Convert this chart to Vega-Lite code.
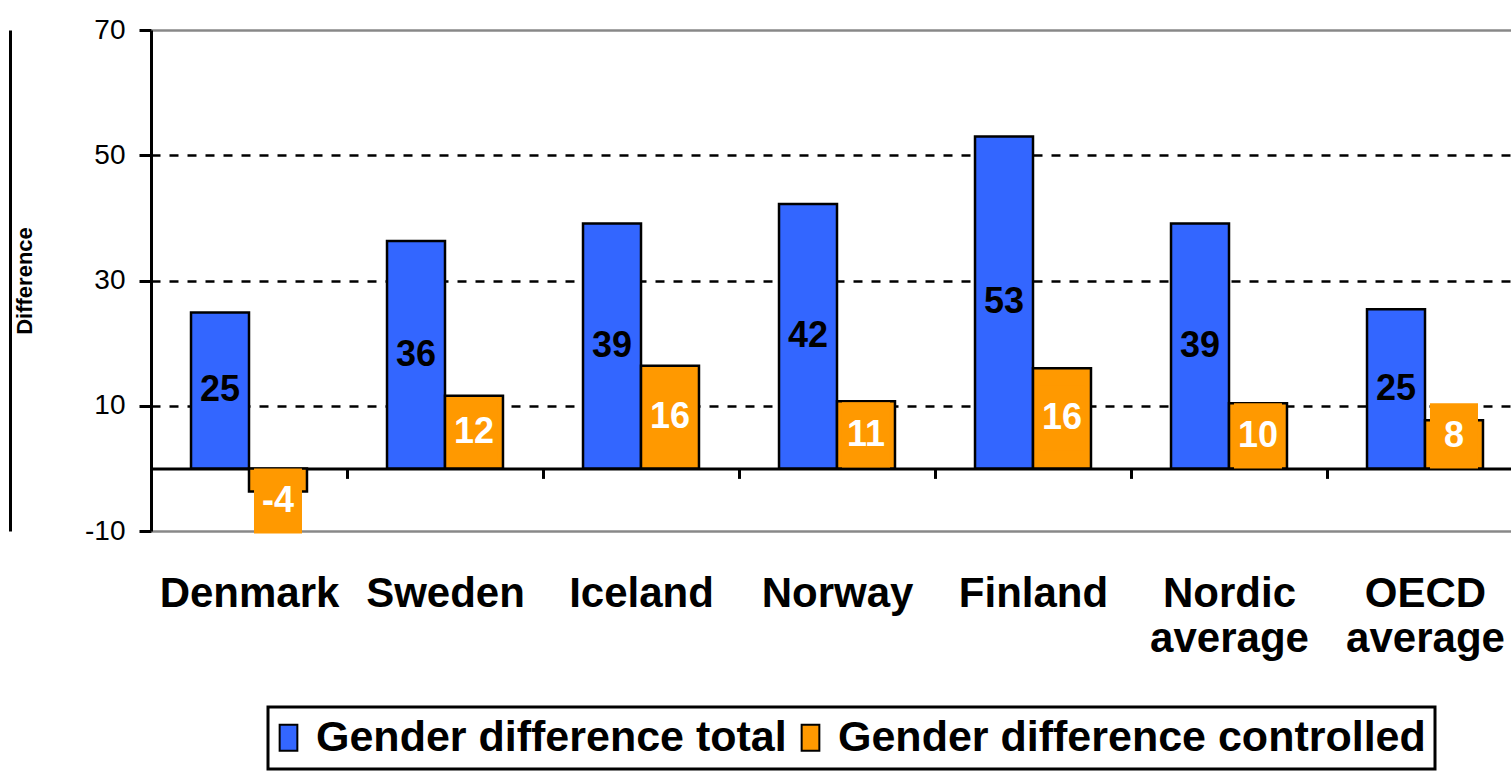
{
  "$schema": "https://vega.github.io/schema/vega-lite/v6.json",
  "width": 1372,
  "height": 501,
  "autosize": "none",
  "padding": {"left": 151, "top": 30, "right": 0, "bottom": 244},
  "background": "white",
  "config": {"view": {"stroke": null}, "font": "Liberation Sans"},
  "data": {
    "values": [
      {"country": "Denmark", "series": "Gender difference total", "value": 24.9},
      {"country": "Denmark", "series": "Gender difference controlled", "value": -3.7},
      {"country": "Sweden", "series": "Gender difference total", "value": 36.3},
      {"country": "Sweden", "series": "Gender difference controlled", "value": 11.6},
      {"country": "Iceland", "series": "Gender difference total", "value": 39.1},
      {"country": "Iceland", "series": "Gender difference controlled", "value": 16.4},
      {"country": "Norway", "series": "Gender difference total", "value": 42.2},
      {"country": "Norway", "series": "Gender difference controlled", "value": 10.7},
      {"country": "Finland", "series": "Gender difference total", "value": 53.0},
      {"country": "Finland", "series": "Gender difference controlled", "value": 16.0},
      {"country": "Nordic average", "series": "Gender difference total", "value": 39.1},
      {"country": "Nordic average", "series": "Gender difference controlled", "value": 10.4},
      {"country": "OECD average", "series": "Gender difference total", "value": 25.4},
      {"country": "OECD average", "series": "Gender difference controlled", "value": 7.7}
    ]
  },
  "transform": [
    {"calculate": "datum.series == 'Gender difference controlled' ? (datum.value < 0 ? min(datum.value / 2, -5.2) : max(datum.value / 2, 5.2)) : datum.value / 2", "as": "lab"},
    {"calculate": "datum.lab - 5.2", "as": "lo"},
    {"calculate": "datum.lab + 5.2", "as": "hi"},
    {"calculate": "'' + round(datum.value)", "as": "txt"}
  ],
  "encoding": {
    "x": {
      "field": "country", "type": "nominal", "sort": null,
      "scale": {"paddingInner": 0, "paddingOuter": 0},
      "axis": {
        "orient": "bottom", "offset": -62.6, "title": null,
        "tickBand": "extent", "tickSize": 10, "tickWidth": 3, "tickColor": "black",
        "domainColor": "black", "domainWidth": 3,
        "labelFont": "Liberation Sans", "labelFontSize": 42, "labelFontWeight": "bold", "labelColor": "black",
        "labelPadding": 95, "labelAngle": 0, "labelLimit": 400, "labelOverlap": false,
        "labelLineHeight": 45, "labelBound": false, "labelFlush": false,
        "labelExpr": "indexof(datum.label, 'average') > 0 ? split(datum.label, ' ') : datum.label"
      }
    },
    "xOffset": {
      "field": "series", "type": "nominal",
      "sort": ["Gender difference total", "Gender difference controlled"],
      "scale": {"paddingInner": 0, "paddingOuter": 0.69}
    }
  },
  "layer": [
    {
      "mark": {"type": "bar", "stroke": "black", "strokeWidth": 2.5},
      "encoding": {
        "y": {
          "field": "value", "type": "quantitative",
          "scale": {"domain": [-10, 70], "nice": false, "zero": false},
          "axis": {
            "values": [-10, 10, 30, 50, 70],
            "labelExpr": "'' + datum.value",
            "title": "Difference", "titleFont": "Liberation Sans", "titleFontSize": 22, "titleFontWeight": "bold",
            "titleColor": "black", "titlePadding": 48,
            "labelFont": "Liberation Sans", "labelFontSize": 28, "labelColor": "black", "labelPadding": 14,
            "tickSize": 12, "tickColor": "black", "tickWidth": 3,
            "domainColor": "black", "domainWidth": 3,
            "grid": true,
            "gridColor": {"condition": {"test": "datum.value == 70 || datum.value == -10", "value": "#888888"}, "value": "black"},
            "gridDash": {"condition": {"test": "datum.value == 70 || datum.value == -10", "value": []}, "value": [9, 9]},
            "gridWidth": 2.5
          }
        },
        "color": {
          "field": "series", "type": "nominal",
          "scale": {"domain": ["Gender difference total", "Gender difference controlled"], "range": ["#3366FF", "#FF9900"]},
          "legend": {
            "orient": "none", "legendX": 117, "legendY": 677, "direction": "horizontal", "title": null,
            "labelFont": "Liberation Sans", "labelFontSize": 43, "labelFontWeight": "bold", "labelColor": "black", "labelLimit": 800,
            "symbolType": "M-3.77,-2.6L-0.23,-2.6L-0.23,2.6L-3.77,2.6Z", "symbolSize": 100,
            "symbolStrokeColor": "black", "symbolStrokeWidth": 2, "symbolOpacity": 1,
            "strokeColor": "black", "padding": 9, "columnPadding": 10, "labelOffset": -4,
            "encode": {"legend": {"update": {"strokeWidth": {"value": 3}}}}
          }
        }
      }
    },
    {
      "transform": [{"filter": "datum.series == 'Gender difference controlled'"}],
      "mark": {"type": "bar", "color": "#FF9900", "width": 48},
      "encoding": {
        "y": {"field": "lo", "type": "quantitative", "axis": null},
        "y2": {"field": "hi"}
      }
    },
    {
      "mark": {"type": "text", "font": "Liberation Sans", "fontSize": 36, "fontWeight": "bold", "baseline": "middle", "align": "center"},
      "encoding": {
        "y": {
          "field": "lab", "type": "quantitative",
          "axis": {"orient": "left", "offset": 141, "labels": false, "ticks": false, "grid": false, "title": null, "domainColor": "black", "domainWidth": 3}
        },
        "text": {"field": "txt", "type": "nominal"},
        "color": {"condition": {"test": "datum.series == 'Gender difference controlled'", "value": "white"}, "value": "black"}
      }
    }
  ],
  "resolve": {"axis": {"y": "independent"}}
}
